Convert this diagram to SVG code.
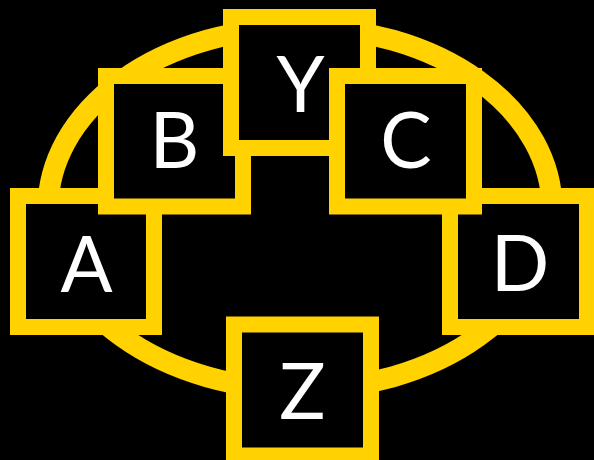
<svg xmlns="http://www.w3.org/2000/svg" width="594" height="460" viewBox="0 0 594 460">
  <style>
    .box { fill: #000000; stroke: #FFD200; stroke-width: 16; }
    .lbl { fill: #FFFFFF; font-family: Lato, "Open Sans", "Liberation Sans", sans-serif; font-size: 77px; text-anchor: middle; }
    .ring { fill: none; stroke: #FFD200; stroke-width: 21; }
  </style>
  <rect x="0" y="0" width="594" height="460" fill="#000000"/>
  <g id="connectors">
    <ellipse class="ring" cx="300" cy="208.5" rx="252" ry="181"/>
  </g>
  <g id="node-A">
    <rect class="box" x="18" y="196" width="136" height="131"/>
    <text class="lbl" x="86.5" y="292">A</text>
  </g>
  <g id="node-D">
    <rect class="box" x="450" y="196" width="137" height="131"/>
    <text class="lbl" x="520" y="291">D</text>
  </g>
  <g id="node-Z">
    <rect class="box" x="234" y="324.5" width="137" height="131"/>
    <text class="lbl" x="302.5" y="419">Z</text>
  </g>
  <g id="node-B">
    <rect class="box" x="106" y="76" width="137" height="130.5"/>
    <text class="lbl" x="174.5" y="168">B</text>
  </g>
  <g id="node-Y">
    <rect class="box" x="231" y="17" width="137" height="131"/>
    <text class="lbl" x="300.5" y="112">Y</text>
  </g>
  <g id="node-C">
    <rect class="box" x="337" y="76" width="137" height="130.5"/>
    <text class="lbl" x="406" y="168">C</text>
  </g>
</svg>
